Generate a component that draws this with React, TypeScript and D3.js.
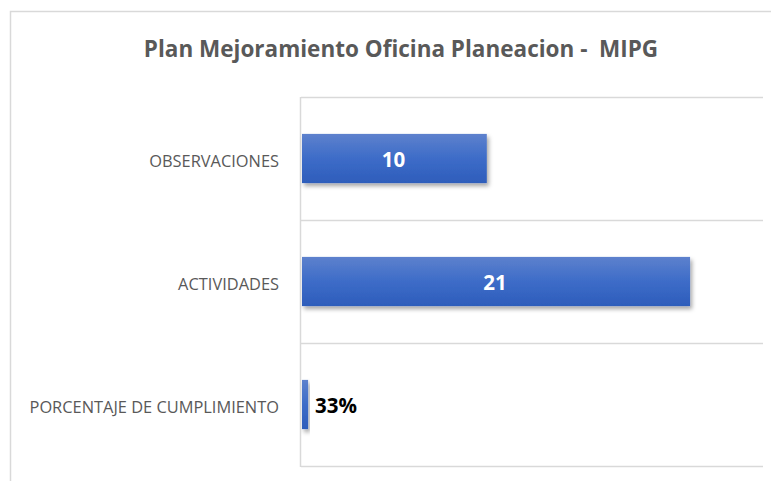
import React, { useRef, useEffect } from "react";
import * as d3 from "d3";

const categories = ["OBSERVACIONES", "ACTIVIDADES", "PORCENTAJE DE CUMPLIMIENTO"];
const values = [10, 21, 0.33];
const valueLabels = ["10", "21", "33%"];
const titleText = "Plan Mejoramiento Oficina Planeacion -  MIPG";

function App() {
    const svgRef = useRef<SVGSVGElement>(null);

    useEffect(() => {
        const width = 779, height = 489;
        const font = "'Open Sans', sans-serif";
        const svg = d3.select(svgRef.current);
        svg.selectAll("*").remove();
        svg.attr("width", width).attr("height", height);

        const defs = svg.append("defs");
        const grad = defs.append("linearGradient")
            .attr("id", "barGrad").attr("x1", 0).attr("y1", 0).attr("x2", 0).attr("y2", 1);
        grad.append("stop").attr("offset", "0%").attr("stop-color", "#5d81cd");
        grad.append("stop").attr("offset", "50%").attr("stop-color", "#3d6cc8");
        grad.append("stop").attr("offset", "100%").attr("stop-color", "#2e5dbb");
        const filter = defs.append("filter").attr("id", "shadow")
            .attr("x", "-10%").attr("y", "-20%").attr("width", "130%").attr("height", "160%");
        filter.append("feDropShadow")
            .attr("dx", 2).attr("dy", 3).attr("stdDeviation", 2)
            .attr("flood-color", "#000").attr("flood-opacity", 0.35);

        // outer chart frame
        svg.append("rect")
            .attr("x", 10.5).attr("y", 11.5).attr("width", 800).attr("height", 500)
            .attr("fill", "#fff").attr("stroke", "#d9d9d9").attr("stroke-width", 1.5);

        const x = d3.scaleLinear().domain([0, 25]).range([301, 763]);
        const y = d3.scaleBand().domain(categories).range([97, 466]).paddingInner(0.6).paddingOuter(0.3);
        const band = d3.scaleBand().domain(categories).range([97, 466]);

        // gridlines at category boundaries
        const bounds = categories.map(c => band(c) as number).concat([466]);
        svg.append("g").selectAll("line").data(bounds).enter().append("line")
            .attr("x1", 301).attr("x2", 763)
            .attr("y1", d => d + 0.5).attr("y2", d => d + 0.5)
            .attr("stroke", "#d9d9d9").attr("stroke-width", 1.5);

        svg.append("line")
            .attr("x1", 300.5).attr("x2", 300.5).attr("y1", 97).attr("y2", 467)
            .attr("stroke", "#d9d9d9").attr("stroke-width", 1.5);

        svg.append("text")
            .attr("x", 401).attr("y", 57).attr("text-anchor", "middle")
            .style("white-space", "pre")
            .attr("font-family", font).attr("font-weight", "bold").attr("font-size", 22.5)
            .attr("fill", "#595959").text(titleText);

        svg.append("g").selectAll("text").data(categories).enter().append("text")
            .attr("x", 279).attr("y", d => (band(d) as number) + band.bandwidth() / 2 + 8.5)
            .attr("text-anchor", "end")
            .attr("font-family", font).attr("font-size", 16.4)
            .attr("fill", "#595959").text(d => d);

        const data = categories.map((c, i) => ({ c, v: values[i], label: valueLabels[i] }));

        svg.append("g").selectAll("rect").data(data).enter().append("rect")
            .attr("x", x(0) + 1)
            .attr("y", d => y(d.c) as number)
            .attr("width", d => x(d.v) - x(0))
            .attr("height", y.bandwidth())
            .attr("fill", "url(#barGrad)")
            .attr("filter", "url(#shadow)");

        svg.append("g").selectAll("text").data(data).enter().append("text")
            .attr("x", d => d.v > 2 ? x(0) + (x(d.v) - x(0)) / 2 : x(d.v) + 8)
            .attr("y", d => (y(d.c) as number) + y.bandwidth() / 2 + 8)
            .attr("text-anchor", d => d.v > 2 ? "middle" : "start")
            .attr("font-family", font).attr("font-weight", "bold").attr("font-size", 20.5)
            .attr("fill", d => d.v > 2 ? "#fff" : "#000")
            .text(d => d.label);
    }, []);

    return (
        <div style={{ margin: -8 }}>
            <svg ref={svgRef} style={{ display: "block" }}></svg>
        </div>
    );
}

export default App;
